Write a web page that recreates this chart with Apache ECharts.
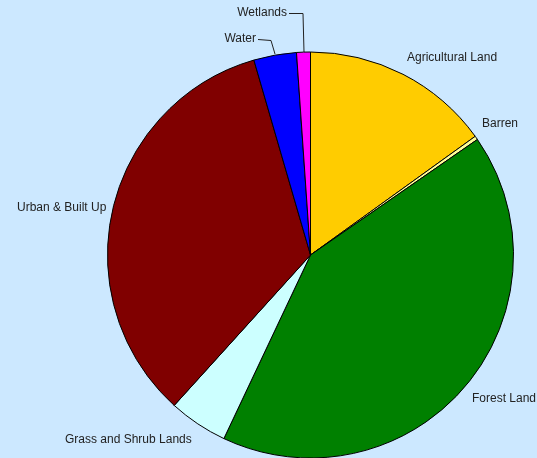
<!DOCTYPE html>
<html><head><meta charset="utf-8">
<script src="https://cdn.jsdelivr.net/npm/echarts@6/dist/echarts.min.js"></script>
<style>html,body{margin:0;padding:0;background:#CCE8FF;}#c{width:537px;height:458px;}</style>
</head><body><div id="c"></div>
<script>
const categories = ["Agricultural Land","Barren","Forest Land","Grass and Shrub Lands","Urban & Built Up","Water","Wetlands"];
const values = [15.07, 0.3, 41.67, 4.7, 33.8, 3.4, 1.1];
const colors = ["#FFCC00","#FFFF99","#008000","#CCFFFF","#800000","#0000FF","#FF00FF"];

// label anchor layout (x, y, align)
const labelPos = [
  [407, 58, 'left'],
  [482, 124, 'left'],
  [472, 399, 'left'],
  [65, 440, 'left'],
  [17, 208, 'left'],
  [256, 39, 'right'],
  [287, 13, 'right']
];
const leaderLines = {
  5: [[258, 39.5], [271, 40.5], [275, 54]],
  6: [[289, 13.5], [303, 13.5], [304, 52]]
};

const chart = echarts.init(document.getElementById('c'));
chart.setOption({
  backgroundColor: '#CCE8FF',
  animation: false,
  series: [{
    type: 'pie',
    center: [310.5, 255],
    radius: 203,
    startAngle: 90,
    clockwise: true,
    avoidLabelOverlap: false,
    itemStyle: { borderColor: '#000', borderWidth: 1 },
    label: {
      show: true,
      fontFamily: 'Liberation Sans, Arial, sans-serif',
      fontSize: 12,
      color: '#222'
    },
    labelLine: { show: true, lineStyle: { color: '#222', width: 1 }, length: 5, length2: 5 },
    labelLayout: function (p) {
      const i = p.dataIndex;
      const pos = labelPos[i];
      const res = { x: pos[0], y: pos[1], align: pos[2], verticalAlign: 'middle', hideOverlap: false };
      if (leaderLines[i]) res.labelLinePoints = leaderLines[i];
      return res;
    },
    data: categories.map((n, i) => ({
      name: n, value: values[i],
      itemStyle: { color: colors[i] },
      labelLine: { show: !!leaderLines[i] }
    }))
  }]
});
</script></body></html>
